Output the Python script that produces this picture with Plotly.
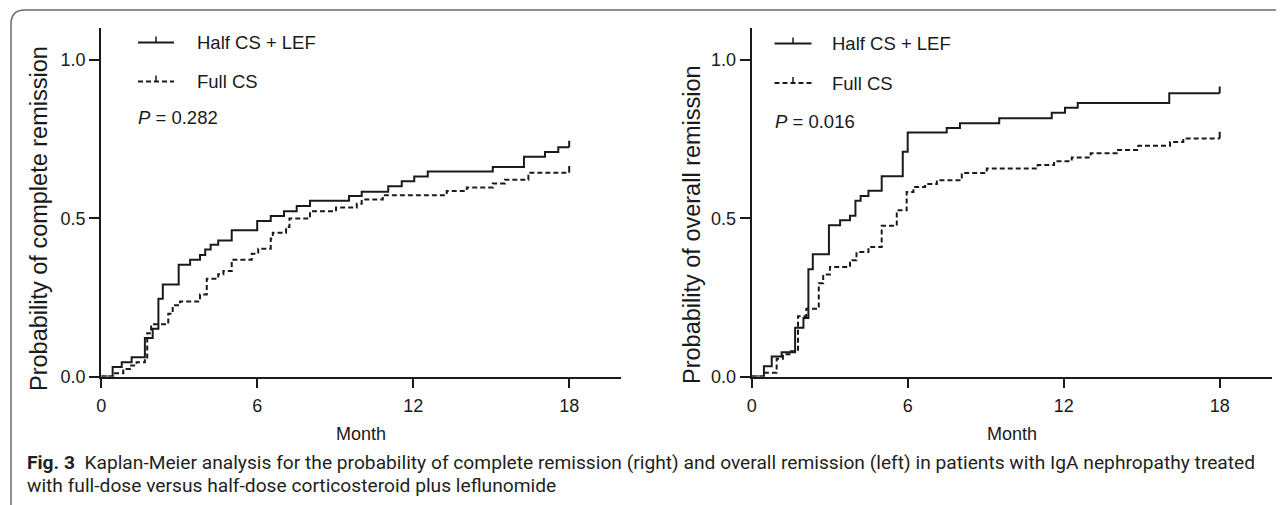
import plotly.graph_objects as go

# page body has an 8px margin; the figure fills the rest of the 1284x505 window
OFF = 8
W, H = 1284 - OFF, 505 - OFF

# ---------------- data ----------------
x_ticks = [0, 6, 12, 18]
y_ticks = [0.0, 0.5, 1.0]
follow_up_end = 18

# Left panel: complete remission
cr_half_t = [0.44, 0.79, 1.17, 1.68, 1.98, 2.2, 2.37, 2.98, 3.42, 3.8, 4.0, 4.21, 4.5, 5.02,
             6.0, 6.52, 7.03, 7.52, 8.03, 9.53, 10.02, 11.04, 11.56, 12.04, 12.56, 15.06,
             16.26, 17.07, 17.58]
cr_half_p = [0.03, 0.045, 0.061, 0.122, 0.151, 0.246, 0.291, 0.353, 0.369, 0.384, 0.401, 0.416,
             0.430, 0.462, 0.491, 0.507, 0.522, 0.539, 0.555, 0.570, 0.584, 0.601, 0.617, 0.632,
             0.648, 0.662, 0.694, 0.709, 0.724]
cr_full_t = [0.47, 0.85, 1.11, 1.36, 1.68, 1.77, 1.92, 2.58, 2.75, 3.03, 3.8, 4.06, 4.5, 4.7,
             5.02, 5.79, 6.04, 6.52, 6.6, 7.11, 7.24, 8.03, 9.03, 9.83, 10.02, 10.83, 13.29,
             14.06, 15.06, 15.53, 16.43]
cr_full_p = [0.01, 0.024, 0.035, 0.045, 0.056, 0.137, 0.165, 0.198, 0.225, 0.237, 0.259, 0.309,
             0.323, 0.333, 0.369, 0.388, 0.404, 0.436, 0.454, 0.472, 0.499, 0.522, 0.534, 0.546,
             0.559, 0.573, 0.586, 0.597, 0.610, 0.622, 0.644]

# Right panel: overall remission
or_half_t = [0.47, 0.77, 1.15, 1.67, 1.99, 2.18, 2.35, 2.97, 3.4, 3.78, 3.99, 4.19, 4.49, 5.0,
             5.81, 6.0, 7.5, 8.01, 9.52, 11.54, 12.05, 12.54, 16.06]
or_half_p = [0.032, 0.063, 0.077, 0.154, 0.185, 0.339, 0.386, 0.478, 0.494, 0.508, 0.555, 0.570,
             0.587, 0.633, 0.710, 0.771, 0.785, 0.800, 0.816, 0.833, 0.849, 0.864, 0.895]
or_full_t = [0.47, 0.96, 1.2, 1.5, 1.78, 2.1, 2.58, 2.75, 3.01, 3.78, 4.03, 4.49, 5.0, 5.58, 5.96,
             6.22, 6.67, 7.12, 8.08, 9.04, 11.0, 11.63, 12.31, 13.04, 14.04, 14.87, 16.09, 16.6]
or_full_p = [0.012, 0.056, 0.07, 0.08, 0.19, 0.214, 0.295, 0.322, 0.346, 0.367, 0.393, 0.409,
             0.476, 0.525, 0.583, 0.599, 0.608, 0.620, 0.643, 0.657, 0.668, 0.680, 0.692, 0.705,
             0.716, 0.729, 0.741, 0.752]

series_names = ["Half CS + LEF", "Full CS"]
p_values = ["0.282", "0.016"]
y_titles = ["Probability of complete remission", "Probability of overall remission"]
x_title = "Month"
caption_1 = "<b>Fig. 3</b>\u00a0\u00a0Kaplan-Meier analysis for the probability of complete remission (right) and overall remission (left) in patients with IgA nephropathy treated"
caption_2 = "with full-dose versus half-dose corticosteroid plus leflunomide"

# ---------------- styling ----------------
INK = "#1a1a1a"
FONT = "Liberation Sans, Arial, sans-serif"
CAP_FONT = "Roboto, Liberation Sans, sans-serif"
CENSOR = 0.021
DASH = "5px,3px"


def px(x):
    return (x - OFF) / W


def py(y):
    return 1 - (y - OFF) / H


fig = go.Figure()


def km(t, p, xa, ya, dash):
    xs = [0] + t + [follow_up_end]
    ys = [0] + p + [p[-1]]
    fig.add_trace(go.Scatter(x=xs, y=ys, mode="lines", line_shape="hv",
                             line=dict(color=INK, width=2, dash=dash),
                             xaxis=xa, yaxis=ya, showlegend=False, hoverinfo="skip"))
    fig.add_trace(go.Scatter(x=[follow_up_end], y=[p[-1]], mode="markers",
                             marker=dict(size=1, color="rgba(0,0,0,0)"),
                             error_y=dict(type="data", symmetric=False, array=[CENSOR],
                                          arrayminus=[0], width=0, thickness=2, color=INK),
                             xaxis=xa, yaxis=ya, showlegend=False, hoverinfo="skip"))


km(cr_half_t, cr_half_p, "x", "y", "solid")
km(cr_full_t, cr_full_p, "x", "y", DASH)
km(or_half_t, or_half_p, "x2", "y2", "solid")
km(or_full_t, or_full_p, "x2", "y2", DASH)

ydom = [py(376.5), py(376.5 - 1.1 * 316.5)]
axis_common = dict(showline=True, linecolor=INK, linewidth=2, ticks="outside", tickcolor=INK,
                   tickwidth=1.5, showgrid=False, zeroline=False, automargin=False,
                   tickfont=dict(family=FONT, size=18, color=INK))
xcommon = dict(axis_common, range=[0, 20], tickvals=x_ticks, ticklen=9, ticklabelstandoff=3)
ycommon = dict(axis_common, range=[0, 1.1], tickvals=y_ticks, tickformat=".1f", ticklen=10,
               domain=ydom)

fig.update_layout(
    width=W, height=H, template="none",
    paper_bgcolor="white", plot_bgcolor="white",
    margin=dict(l=0, r=0, t=0, b=0, autoexpand=False),
    showlegend=False,
    xaxis=dict(xcommon, domain=[px(101.2), px(621.2)], anchor="y"),
    yaxis=dict(ycommon, anchor="x"),
    xaxis2=dict(xcommon, domain=[px(751.7), px(1271.7)], anchor="y2"),
    yaxis2=dict(ycommon, anchor="x2"),
)

shapes = []
# panel border with rounded top-left corner
shapes.append(dict(type="path", xref="paper", yref="paper",
                   path=f"M {px(11)},{py(520)} L {px(11)},{py(24)} Q {px(11)},{py(10)} {px(25)},{py(10)} L {px(1300)},{py(10)}",
                   line=dict(color="#6b6b6b", width=1.5)))

annotations = []
legend_cfg = [
    # (line x0, line x1, tick x, text x, y solid, y dashed, y P, P x)
    (138, 174, 156, 195, 42.5, 81.5, 117.5, 136),
    (774.5, 811.5, 793, 830, 43.5, 83, 121.5, 772.5),
]
for i, (lx0, lx1, tx, txt_x, ys, yd, yp, pxx) in enumerate(legend_cfg):
    for yy, dash, name in [(ys, "solid", series_names[0]), (yd, DASH, series_names[1])]:
        shapes.append(dict(type="line", xref="paper", yref="paper", x0=px(lx0), x1=px(lx1),
                           y0=py(yy), y1=py(yy), line=dict(color=INK, width=2, dash=dash)))
        shapes.append(dict(type="line", xref="paper", yref="paper", x0=px(tx), x1=px(tx),
                           y0=py(yy), y1=py(yy - 6), line=dict(color=INK, width=1.5)))
        annotations.append(dict(xref="paper", yref="paper", x=px(txt_x), y=py(yy), xanchor="left",
                                yanchor="middle", text=name, showarrow=False,
                                font=dict(family=FONT, size=18.5, color=INK)))
    annotations.append(dict(xref="paper", yref="paper", x=px(pxx), y=py(yp), xanchor="left",
                            yanchor="middle", text=f"<i>P</i> = {p_values[i]}", showarrow=False,
                            font=dict(family=FONT, size=18.5, color=INK)))

# axis titles
for xc, yc, t in [(39, 219, y_titles[0]), (692, 225, y_titles[1])]:
    annotations.append(dict(xref="paper", yref="paper", x=px(xc), y=py(yc), textangle=-90,
                            xanchor="center", yanchor="middle", text=t, showarrow=False,
                            font=dict(family=FONT, size=23.5, color=INK)))
for xc in [361.2, 1011.7]:
    annotations.append(dict(xref="paper", yref="paper", x=px(xc), y=py(433.5), xanchor="center",
                            yanchor="middle", text=x_title, showarrow=False,
                            font=dict(family=FONT, size=18, color=INK)))

# caption
annotations.append(dict(xref="paper", yref="paper", x=px(25), y=py(462), xanchor="left",
                        yanchor="middle", text=caption_1, showarrow=False,
                        font=dict(family=CAP_FONT, size=19.2, color="#231f20")))
annotations.append(dict(xref="paper", yref="paper", x=px(25), y=py(485.5), xanchor="left",
                        yanchor="middle", text=caption_2, showarrow=False,
                        font=dict(family=CAP_FONT, size=19.2, color="#231f20")))

fig.update_layout(shapes=shapes, annotations=annotations)
fig.write_html("out.html")
